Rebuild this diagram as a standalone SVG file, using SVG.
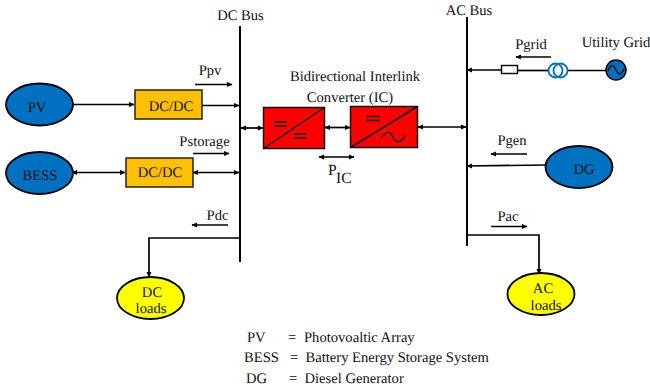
<svg xmlns="http://www.w3.org/2000/svg" width="650" height="392" viewBox="0 0 650 392">
<defs>
<marker id="ah" viewBox="0 0 10 10" refX="9" refY="5" markerWidth="6" markerHeight="6" markerUnits="userSpaceOnUse" orient="auto-start-reverse"><path d="M0 0.5L10 5L0 9.500Z" fill="#000"/></marker>
</defs>
<style>
text{font-family:"Liberation Serif","Times New Roman",serif;font-size:14.600px;fill:#111;text-rendering:geometricPrecision}
.c{stroke:#000;stroke-width:1.700;fill:none}
.bus{stroke:#000;stroke-width:2;fill:none}
.a{marker-end:url(#ah)}
.b{marker-start:url(#ah);marker-end:url(#ah)}
.blue{fill:#0070c0;stroke:#000;stroke-width:1.800}
.yel{fill:#ffff00;stroke:#000;stroke-width:1.800}
.org{fill:#ffc000;stroke:#222;stroke-width:1.500}
.red{fill:#ff0000;stroke:#111;stroke-width:1.500}
.k{stroke:#111;stroke-width:1.500;fill:none}
.m{text-anchor:middle}
</style>
<rect width="650" height="392" fill="#fff"/>
<g id="connectors">
<path class="bus" d="M240 26V262"/>
<path class="bus" d="M467 17V246"/>
<path class="c a" d="M73 104.500H134"/>
<path class="c a" d="M202 105.500H239"/>
<path class="c b" d="M72 172.500H125"/>
<path class="c b" d="M193 172.500H239"/>
<path class="c b" d="M241 128H263"/>
<path class="c b" d="M325 127.500H350"/>
<path class="c b" d="M418 127H466"/>
<path class="c a" d="M195 84.500H232"/>
<path class="c a" d="M193 153.500H229"/>
<path class="c b" d="M319 157H354"/>
<path class="c a" d="M228 225H192"/>
<path class="c a" d="M240 238H149V277"/>
<path class="c a" d="M467 235H539V274"/>
<path class="c" d="M518 70.500H548"/>
<path class="c" d="M568 70.500H606"/>
<path class="c a" d="M551 57H516"/>
<path class="c a" d="M527 154H491"/>
<path class="c a" d="M546 165L467 166"/>
<path class="c a" d="M502 70H467"/>
<path class="c a" d="M491 226.500H527"/>
</g>
<g id="pv"><ellipse class="blue" cx="39.500" cy="104.500" rx="33.500" ry="21"/><text class="m" x="37" y="111.500">PV</text></g>
<g id="bess"><ellipse class="blue" cx="39.500" cy="173" rx="33.500" ry="21"/><text class="m" x="40" y="180">BESS</text></g>
<g id="dcdc1"><rect class="org" x="135" y="90" width="67" height="29"/><text class="m" x="171" y="110.500">DC/DC</text></g>
<g id="dcdc2"><rect class="org" x="126" y="158" width="67" height="29"/><text class="m" x="160" y="177">DC/DC</text></g>
<g id="ic1"><rect class="red" x="263.500" y="107.500" width="61" height="41"/><path class="k" d="M263.500 148.500L324.500 107.500M274 122H287M274 126H287M294 134H307M294 138H307"/></g>
<g id="ic2"><rect class="red" x="350.500" y="106.500" width="67" height="41"/><path class="k" d="M350.500 147.500L417.500 106.500M366 116.500H380M366 120.500H380M381 139C386 130 390 131 393 137C396 143 400 144 405 136"/></g>
<g id="dg"><ellipse class="blue" cx="579" cy="167" rx="33.500" ry="21"/><text class="m" x="584" y="174">DG</text></g>
<g id="dcloads"><ellipse class="yel" cx="150.500" cy="298" rx="33.500" ry="21"/><text class="m" x="152" y="297">DC</text><text class="m" x="151" y="313">loads</text></g>
<g id="acloads"><ellipse class="yel" cx="541" cy="294" rx="33.500" ry="21"/><text class="m" x="543" y="293">AC</text><text class="m" x="546" y="310">loads</text></g>
<g id="breaker"><rect x="501.500" y="65.500" width="16" height="8" fill="#fff" stroke="#111" stroke-width="1.500"/></g>
<g id="transformer"><circle cx="555.500" cy="70.500" r="7" fill="none" stroke="#0070c0" stroke-width="1.800"/><circle cx="560.500" cy="70.500" r="7" fill="none" stroke="#0070c0" stroke-width="1.800"/></g>
<g id="grid"><circle cx="616" cy="70" r="10" fill="#0070c0" stroke="#000" stroke-width="1.500"/><path class="k" d="M608 71C611 63 614 65 616 70C618 75 621 76 624 69"/></g>
<g id="labels">
<text class="m" x="240.500" y="20">DC Bus</text>
<text class="m" x="469" y="15">AC Bus</text>
<text class="m" x="210" y="75">Ppv</text>
<text class="m" x="204.500" y="146">Pstorage</text>
<text class="m" x="217.500" y="220">Pdc</text>
<text class="m" x="531" y="49">Pgrid</text>
<text class="m" x="616" y="47">Utility Grid</text>
<text class="m" x="512" y="145">Pgen</text>
<text class="m" x="508" y="221">Pac</text>
<text class="m" x="355" y="81">Bidirectional Interlink</text>
<text class="m" x="350" y="102">Converter (IC)</text>
<text x="328" y="175" style="font-size:15.500px">P</text><text x="336" y="182.500" style="font-size:15.500px">IC</text>
<text x="247" y="342">PV</text><text x="288" y="342">=</text><text x="304" y="342">Photovoaltic Array</text>
<text x="244" y="362">BESS</text><text x="290" y="362">=</text><text x="305.500" y="362">Battery Energy Storage System</text>
<text x="246" y="383">DG</text><text x="289" y="383">=</text><text x="304.500" y="383">Diesel Generator</text>
</g>
</svg>
